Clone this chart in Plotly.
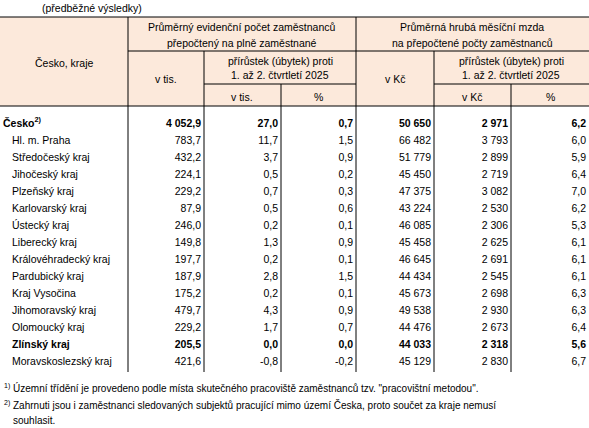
import plotly.graph_objects as go

regions = ["Česko<sup>2)</sup>", "Hl. m. Praha", "Středočeský kraj", "Jihočeský kraj", "Plzeňský kraj",
           "Karlovarský kraj", "Ústecký kraj", "Liberecký kraj", "Královéhradecký kraj", "Pardubický kraj",
           "Kraj Vysočina", "Jihomoravský kraj", "Olomoucký kraj", "Zlínský kraj", "Moravskoslezský kraj"]
emp = [4052.9, 783.7, 432.2, 224.1, 229.2, 87.9, 246.0, 149.8, 197.7, 187.9, 175.2, 479.7, 229.2, 205.5, 421.6]
emp_diff = [27.0, 11.7, 3.7, 0.5, 0.7, 0.5, 0.2, 1.3, 0.2, 2.8, 0.2, 4.3, 1.7, 0.0, -0.8]
emp_pct = [0.7, 1.5, 0.9, 0.2, 0.3, 0.6, 0.1, 0.9, 0.1, 1.5, 0.1, 0.9, 0.7, 0.0, -0.2]
wage = [50650, 66482, 51779, 45450, 47375, 43224, 46085, 45458, 46645, 44434, 45673, 49538, 44476, 44033, 45129]
wage_diff = [2971, 3793, 2899, 2719, 3082, 2530, 2306, 2625, 2691, 2545, 2698, 2930, 2673, 2318, 2830]
wage_pct = [6.2, 6.0, 5.9, 6.4, 7.0, 6.2, 5.3, 6.1, 6.1, 6.1, 6.3, 6.3, 6.4, 5.6, 6.7]
bold_rows = [0, 13]

def fmt(v, dec):
    s = f"{abs(v):,.{dec}f}".replace(",", " ").replace(".", ",")
    return ("-" if v < 0 else "") + s

F = "Liberation Sans, Arial, sans-serif"
FS = 10.5
COLX = [0, 128, 204, 281, 356, 434, 511, 589]
Y0, DY = 124, 17
ys = [Y0 + DY * i for i in range(len(regions))]

fig = go.Figure()
fig.add_shape(type="rect", x0=0, x1=589, y0=17, y1=106, fillcolor="#fce9db", line_width=0, layer="below")
shapes = [
    (0, 589, 17, 17), (0, 589, 106, 106), (128, 589, 51, 51), (204, 356, 84, 84), (434, 589, 84, 84),
    (128, 128, 17, 372), (356, 356, 17, 372), (204, 204, 51, 372), (434, 434, 51, 372),
    (281, 281, 84, 372), (511, 511, 84, 372),
]
for x0, x1, y0, y1 in shapes:
    fig.add_shape(type="line", x0=x0, x1=x1, y0=y0, y1=y1, line=dict(color="black", width=1))

def ann(x, y, t, anchor="center", size=FS):
    fig.add_annotation(x=x, y=y, text=t, showarrow=False, xanchor=anchor, yanchor="middle",
                       font=dict(family=F, size=size, color="black"))

ann(40, 8, "(předběžné výsledky)", "left")
ann(242, 27, "Průměrný evidenční počet zaměstnanců")
ann(242, 43, "přepočtený na plně zaměstnané")
ann(472, 27, "Průměrná hrubá měsíční mzda")
ann(472, 43, "na přepočtené počty zaměstnanců")
ann(64, 63, "Česko, kraje")
ann(166, 79, "v tis.")
ann(395, 79, "v Kč")
ann(280, 61, "přírůstek (úbytek) proti")
ann(280, 75, "1. až 2. čtvrtletí 2025")
ann(511, 61, "přírůstek (úbytek) proti")
ann(511, 75, "1. až 2. čtvrtletí 2025")
ann(242, 97, "v tis.")
ann(318, 97, "%")
ann(472, 97, "v Kč")
ann(550, 97, "%")

def b(t, i):
    return f"<b>{t}</b>" if i in bold_rows else t

names = [b(r, i) for i, r in enumerate(regions)]
name_x = [3 if i == 0 else 12 for i in range(len(regions))]
fig.add_trace(go.Scatter(x=name_x, y=ys, mode="text", text=names, textposition="middle right",
                         textfont=dict(family=F, size=FS, color="black"), hoverinfo="skip"))
cols = [(emp, 1), (emp_diff, 1), (emp_pct, 1), (wage, 0), (wage_diff, 0), (wage_pct, 1)]
for k, (vals, dec) in enumerate(cols):
    fig.add_trace(go.Scatter(x=[COLX[k + 2] - 3] * len(vals), y=ys, mode="text",
                             text=[b(fmt(v, dec), i) for i, v in enumerate(vals)],
                             textposition="middle left",
                             textfont=dict(family=F, size=FS, color="black"), hoverinfo="skip"))

ann(2, 388, "<sup>1)</sup> Územní třídění je provedeno podle místa skutečného pracoviště zaměstnanců tzv. \"pracovištní metodou\".", "left", 10)
ann(2, 405, "<sup>2)</sup> Zahrnuti jsou i zaměstnanci sledovaných subjektů pracující mimo území Česka, proto součet za kraje nemusí", "left", 10)
ann(11, 420, "souhlasit.", "left", 10)

fig.update_layout(autosize=True, margin=dict(l=0, r=0, t=0, b=0), showlegend=False,
                  plot_bgcolor="white", paper_bgcolor="white",
                  xaxis=dict(range=[0, 589], visible=False, fixedrange=True),
                  yaxis=dict(range=[428, 0], visible=False, fixedrange=True))
fig.write_html("out.html", default_width="100vw", default_height="100vh",
               config={"displayModeBar": False, "responsive": True},
               post_script="document.body.style.margin='0';document.body.style.overflow='hidden';window.dispatchEvent(new Event('resize'));")
